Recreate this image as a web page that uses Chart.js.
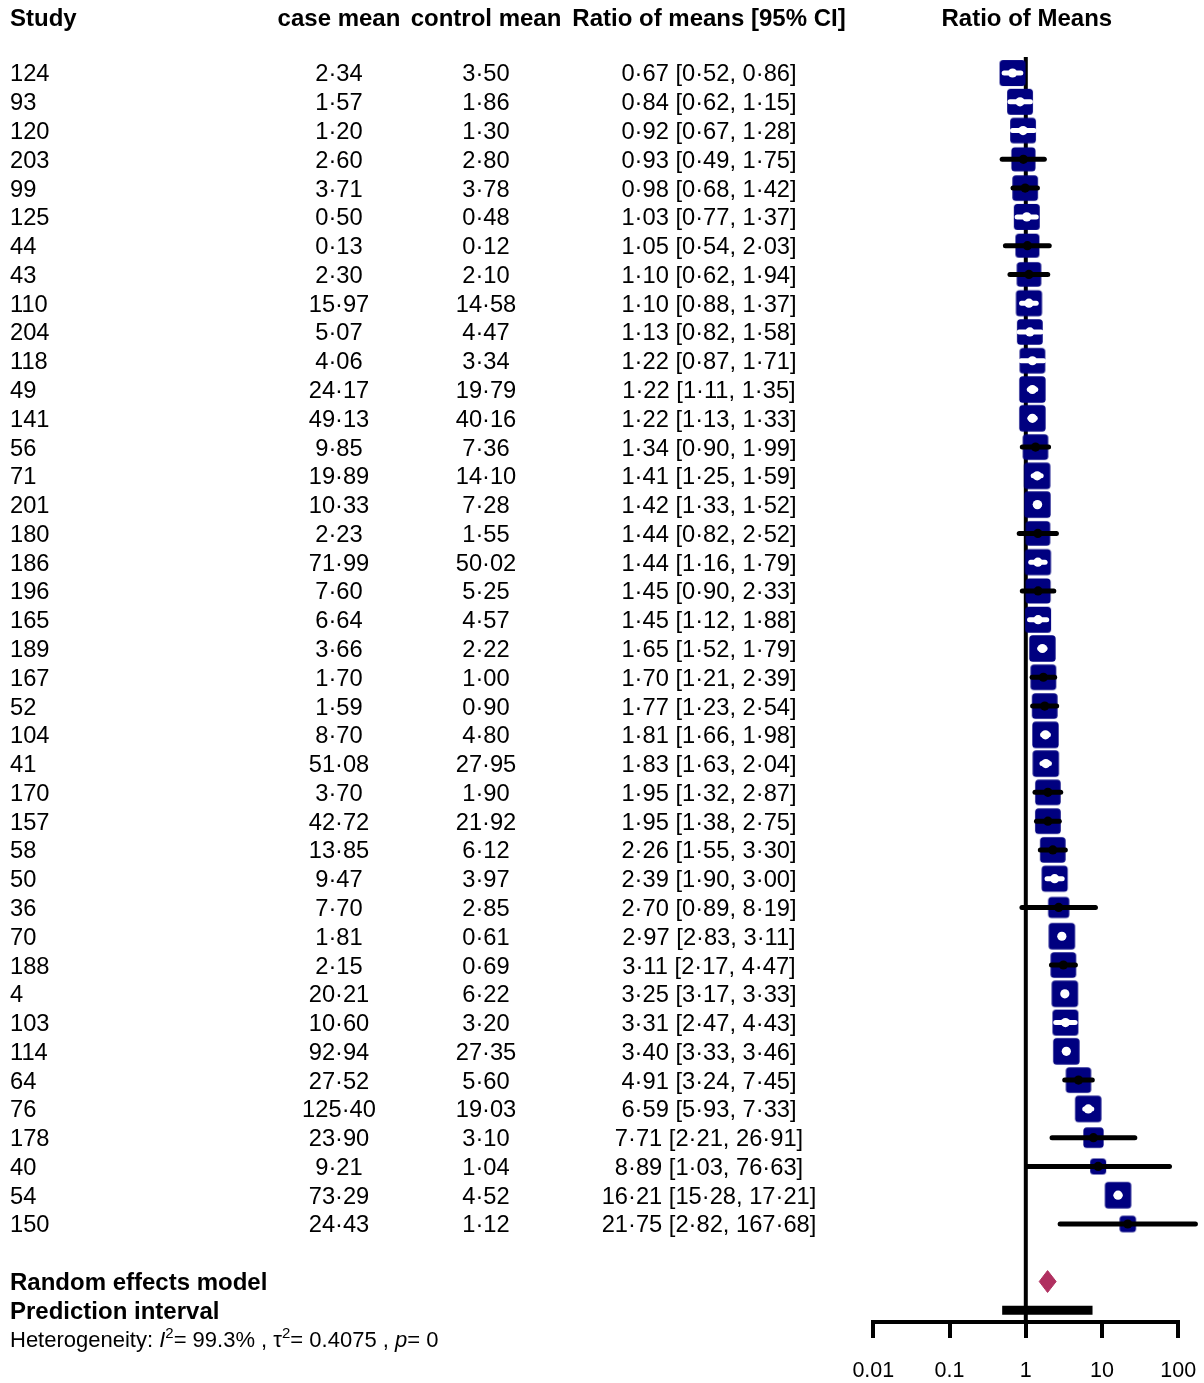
<!DOCTYPE html>
<html>
<head>
<meta charset="utf-8">
<title>Ratio of Means - forest plot</title>
<script src="https://cdn.jsdelivr.net/npm/chart.js@4.4.1/dist/chart.umd.min.js"></script>
<style>
  html, body { margin: 0; padding: 0; background: #fff; }
  #wrap { width: 1204px; height: 1383px; }
</style>
</head>
<body>
<div id="wrap"><canvas id="forest" width="1204" height="1383"></canvas></div>
<script>
// ---- data ----
const studies = ['124', '93', '120', '203', '99', '125', '44', '43', '110', '204', '118', '49', '141', '56', '71',
    '201', '180', '186', '196', '165', '189', '167', '52', '104', '41', '170', '157', '58', '50', '36', '70', '188',
    '4', '103', '114', '64', '76', '178', '40', '54', '150'];
const caseMeans = [2.34, 1.57, 1.20, 2.60, 3.71, 0.50, 0.13, 2.30, 15.97, 5.07, 4.06, 24.17, 49.13, 9.85, 19.89,
    10.33, 2.23, 71.99, 7.60, 6.64, 3.66, 1.70, 1.59, 8.70, 51.08, 3.70, 42.72, 13.85, 9.47, 7.70, 1.81, 2.15,
    20.21, 10.60, 92.94, 27.52, 125.40, 23.90, 9.21, 73.29, 24.43];
const controlMeans = [3.50, 1.86, 1.30, 2.80, 3.78, 0.48, 0.12, 2.10, 14.58, 4.47, 3.34, 19.79, 40.16, 7.36, 14.10,
    7.28, 1.55, 50.02, 5.25, 4.57, 2.22, 1.00, 0.90, 4.80, 27.95, 1.90, 21.92, 6.12, 3.97, 2.85, 0.61, 0.69,
    6.22, 3.20, 27.35, 5.60, 19.03, 3.10, 1.04, 4.52, 1.12];
const ratios = [0.67, 0.84, 0.92, 0.93, 0.98, 1.03, 1.05, 1.10, 1.10, 1.13, 1.22, 1.22, 1.22, 1.34, 1.41,
    1.42, 1.44, 1.44, 1.45, 1.45, 1.65, 1.70, 1.77, 1.81, 1.83, 1.95, 1.95, 2.26, 2.39, 2.70, 2.97, 3.11,
    3.25, 3.31, 3.40, 4.91, 6.59, 7.71, 8.89, 16.21, 21.75];
const ciLower = [0.52, 0.62, 0.67, 0.49, 0.68, 0.77, 0.54, 0.62, 0.88, 0.82, 0.87, 1.11, 1.13, 0.90, 1.25,
    1.33, 0.82, 1.16, 0.90, 1.12, 1.52, 1.21, 1.23, 1.66, 1.63, 1.32, 1.38, 1.55, 1.90, 0.89, 2.83, 2.17,
    3.17, 2.47, 3.33, 3.24, 5.93, 2.21, 1.03, 15.28, 2.82];
const ciUpper = [0.86, 1.15, 1.28, 1.75, 1.42, 1.37, 2.03, 1.94, 1.37, 1.58, 1.71, 1.35, 1.33, 1.99, 1.59,
    1.52, 2.52, 1.79, 2.33, 1.88, 1.79, 2.39, 2.54, 1.98, 2.04, 2.87, 2.75, 3.30, 3.00, 8.19, 3.11, 4.47,
    3.33, 4.43, 3.46, 7.45, 7.33, 26.91, 76.63, 17.21, 167.68];
// random effects weights (%)
const weights = [2.64, 2.59, 2.58, 2.18, 2.53, 2.61, 2.15, 2.28, 2.67, 2.57, 2.56, 2.73, 2.74, 2.50, 2.72,
    2.74, 2.29, 2.67, 2.40, 2.64, 2.74, 2.56, 2.54, 2.74, 2.73, 2.51, 2.55, 2.52, 2.66, 1.54, 2.75, 2.54,
    2.75, 2.61, 2.75, 2.47, 2.73, 1.38, 0.69, 2.74, 0.75];

const pooledRatio = [1.93, 1.50, 2.50];      // estimate, lower, upper
const predictionInterval = [0.49, 7.5];
const hetI2 = '99.3%';
const hetTau2 = '0.4075';
const hetP = '0';

const headers = ['Study', 'case mean', 'control mean', 'Ratio of means [95% CI]', 'Ratio of Means'];
const xTickValues = [0.01, 0.1, 1, 10, 100];
const xTickLabels = ['0.01', '0.1', '1', '10', '100'];

// ---- helpers ----
const FONT = '"Liberation Sans", Arial, sans-serif';
const NAVY = '#000080';
const MAROON = '#B03060';
const fmt = v => v.toFixed(2).replace('.', '\u00b7');

const POOLED_ROW = studies.length + 1;
const PRED_ROW = studies.length + 2;
const HET_ROW = studies.length + 3;

function boxSide(w) {
    return 12.6 * Math.sqrt(w) + 5.5;
}

function makeBox(side) {
    const n = Math.ceil(side) + 2;
    const c = document.createElement('canvas');
    c.width = n;
    c.height = n;
    const g = c.getContext('2d');
    const o = (n - side) / 2, r = 3.5;
    g.fillStyle = NAVY;
    g.beginPath();
    g.moveTo(o + r, o);
    g.arcTo(o + side, o, o + side, o + side, r);
    g.arcTo(o + side, o + side, o, o + side, r);
    g.arcTo(o, o + side, o, o, r);
    g.arcTo(o, o, o + side, o, r);
    g.closePath();
    g.fill();
    return c;
}
const boxImages = weights.map(w => makeBox(boxSide(w)));

// CI drawn white when it fits inside the box, black otherwise
function ciInside(chart, i) {
    const x = chart.scales.x;
    const half = boxSide(weights[i]) / 2 - 1.6;
    const e = x.getPixelForValue(ratios[i]);
    return x.getPixelForValue(ciUpper[i]) - e < half && e - x.getPixelForValue(ciLower[i]) < half;
}

const ciData = [];
studies.forEach((s, i) => {
    ciData.push({ x: ciLower[i], y: i }, { x: ciUpper[i], y: i }, { x: ciUpper[i], y: null });
});

const diamondH = 0.38;
const diamondData = [
    { x: pooledRatio[1], y: POOLED_ROW },
    { x: pooledRatio[0], y: POOLED_ROW - diamondH },
    { x: pooledRatio[2], y: POOLED_ROW },
    { x: pooledRatio[0], y: POOLED_ROW + diamondH },
    { x: pooledRatio[1], y: POOLED_ROW }
];

// ---- text columns ----
const textPlugin = {
    id: 'forestText',
    afterDraw(chart) {
        const ctx = chart.ctx;
        const yScale = chart.scales.y;
        const area = chart.chartArea;
        const rowY = r => yScale.getPixelForValue(r);

        function put(text, x, cy, align, size, weight) {
            ctx.font = (weight || '') + ' ' + size + 'px ' + FONT;
            ctx.textAlign = align;
            ctx.fillText(text, x, cy + size * 0.358);
        }

        ctx.save();
        ctx.fillStyle = '#000';
        ctx.textBaseline = 'alphabetic';

        const hy = 17;
        put(headers[0], 10, hy, 'left', 24, 'bold');
        put(headers[1], 339, hy, 'center', 24, 'bold');
        put(headers[2], 486, hy, 'center', 24, 'bold');
        put(headers[3], 709, hy, 'center', 24, 'bold');
        put(headers[4], (area.left + area.right) / 2 + 1, hy, 'center', 24, 'bold');

        studies.forEach((s, i) => {
            const cy = rowY(i);
            put(s, 10, cy, 'left', 23.7);
            put(fmt(caseMeans[i]), 339, cy, 'center', 23.7);
            put(fmt(controlMeans[i]), 486, cy, 'center', 23.7);
            put(fmt(ratios[i]) + ' [' + fmt(ciLower[i]) + ', ' + fmt(ciUpper[i]) + ']', 709, cy, 'center', 23.7);
        });

        put('Random effects model', 10, rowY(POOLED_ROW), 'left', 24, 'bold');
        put('Prediction interval', 10, rowY(PRED_ROW), 'left', 24, 'bold');

        // heterogeneity line with italics and superscripts
        const hetY = rowY(HET_ROW) + 22 * 0.358;
        const parts = [
            ['Heterogeneity: ', '', 22, 0],
            ['I', 'italic', 22, 0],
            ['2', '', 15, -9],
            ['= ' + hetI2 + ' , ', '', 22, 0],
            ['\u03c4', '', 22, 0],
            ['2', '', 15, -9],
            ['= ' + hetTau2 + ' , ', '', 22, 0],
            ['p', 'italic', 22, 0],
            ['= ' + hetP, '', 22, 0]
        ];
        let hx = 10;
        ctx.textAlign = 'left';
        parts.forEach(([t, style, size, dy]) => {
            ctx.font = style + ' ' + size + 'px ' + FONT;
            ctx.fillText(t, hx, hetY + dy);
            hx += ctx.measureText(t).width;
        });
        ctx.restore();
    }
};

// ---- chart ----
new Chart(document.getElementById('forest'), {
    type: 'scatter',
    data: {
        datasets: [
            {
                // estimate dots
                type: 'scatter',
                order: 1,
                data: studies.map((s, i) => ({ x: ratios[i], y: i })),
                pointRadius: 4.6,
                pointHoverRadius: 4.6,
                pointBorderWidth: 0,
                pointBackgroundColor: ctx => ciInside(ctx.chart, ctx.dataIndex) ? '#fff' : '#000'
            },
            {
                // confidence intervals (may run past the axis end)
                type: 'line',
                order: 2,
                clip: false,
                data: ciData,
                borderWidth: 5,
                borderCapStyle: 'round',
                pointRadius: 0,
                spanGaps: false,
                borderColor: '#000',
                segment: {
                    borderColor: ctx => ciInside(ctx.chart, Math.floor(ctx.p0DataIndex / 3)) ? '#fff' : '#000'
                }
            },
            {
                // weight boxes
                type: 'scatter',
                order: 3,
                data: studies.map((s, i) => ({ x: ratios[i], y: i })),
                pointStyle: ctx => boxImages[ctx.dataIndex],
                pointRadius: 14,
                pointHoverRadius: 14
            },
            {
                // pooled estimate diamond
                type: 'line',
                order: 3,
                data: diamondData,
                borderColor: MAROON,
                backgroundColor: MAROON,
                borderWidth: 1,
                fill: 'shape',
                tension: 0,
                pointRadius: 0
            },
            {
                // prediction interval
                type: 'line',
                order: 3,
                data: [{ x: predictionInterval[0], y: PRED_ROW }, { x: predictionInterval[1], y: PRED_ROW }],
                borderColor: '#000',
                borderWidth: 9,
                borderCapStyle: 'butt',
                pointRadius: 0
            },
            {
                // line of no effect
                type: 'line',
                order: 5,
                data: [{ x: 1, y: -0.556 }, { x: 1, y: 43.41 }],
                borderColor: '#000',
                borderWidth: 4,
                pointRadius: 0
            }
        ]
    },
    options: {
        responsive: false,
        devicePixelRatio: 1,
        animation: false,
        events: [],
        layout: { autoPadding: false, padding: { left: 873.3, right: 25.7, top: 0, bottom: 0 } },
        plugins: {
            legend: { display: false },
            tooltip: { enabled: false }
        },
        scales: {
            x: {
                type: 'logarithmic',
                min: 0.01,
                max: 100,
                afterBuildTicks: scale => {
                    scale.ticks = xTickValues.map(v => ({ value: v }));
                },
                afterFit: scale => {
                    // fixed axis band; labels fit inside the page padding
                    scale.height = 61;
                    scale.paddingLeft = 0;
                    scale.paddingRight = 0;
                },
                grid: {
                    drawOnChartArea: false,
                    drawTicks: true,
                    tickLength: 16,
                    lineWidth: 4,
                    color: '#000'
                },
                border: { display: true, width: 4, color: '#000' },
                ticks: {
                    autoSkip: false,
                    maxRotation: 0,
                    padding: 20,
                    color: '#000',
                    font: { family: FONT, size: 21.5 },
                    callback: (v, i) => xTickLabels[i]
                }
            },
            y: {
                type: 'linear',
                display: false,
                reverse: true,
                min: -2.537,
                max: 43.406
            }
        }
    },
    plugins: [textPlugin]
});
</script>
</body>
</html>
